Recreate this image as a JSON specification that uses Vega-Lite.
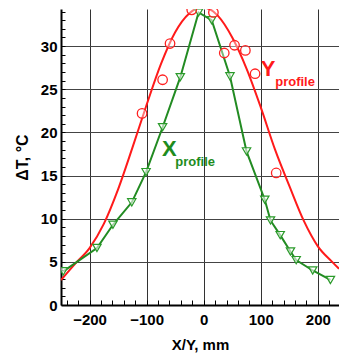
{
  "$schema": "https://vega.github.io/schema/vega-lite/v6.json",
  "autosize": "none",
  "width": 278,
  "height": 296,
  "padding": {"left": 61, "top": 9, "right": 0, "bottom": 49},
  "background": "white",
  "config": {"view": {"stroke": null}, "font": "Liberation Sans"},
  "datasets": {
    "ycurve": [
      {"x": -250, "y": 2.9}, {"x": -225, "y": 4.8}, {"x": -200, "y": 6.6}, {"x": -175, "y": 9.4},
      {"x": -150, "y": 13.4}, {"x": -125, "y": 18.2}, {"x": -100, "y": 23.2}, {"x": -75, "y": 27.9},
      {"x": -50, "y": 31.6}, {"x": -25, "y": 33.8}, {"x": -5, "y": 34.5}, {"x": 10, "y": 34.3},
      {"x": 25, "y": 33.5}, {"x": 50, "y": 31.0}, {"x": 75, "y": 27.4}, {"x": 100, "y": 22.9},
      {"x": 125, "y": 18.0}, {"x": 150, "y": 13.8}, {"x": 175, "y": 9.8}, {"x": 200, "y": 6.8},
      {"x": 225, "y": 5.0}, {"x": 237, "y": 4.2}
    ],
    "ypts": [
      {"x": -108, "y": 22.2}, {"x": -72, "y": 26.1}, {"x": -59, "y": 30.3}, {"x": -21, "y": 34.2},
      {"x": 17, "y": 33.9}, {"x": 36, "y": 29.2}, {"x": 54, "y": 30.1}, {"x": 73, "y": 29.5},
      {"x": 90, "y": 26.8}, {"x": 127, "y": 15.3}
    ],
    "xpts": [
      {"x": -246, "y": 3.9}, {"x": -187, "y": 6.6}, {"x": -159, "y": 9.3}, {"x": -126, "y": 11.9},
      {"x": -101, "y": 15.4}, {"x": -72, "y": 20.6}, {"x": -41, "y": 26.4}, {"x": -9, "y": 33.9},
      {"x": 14, "y": 33.0}, {"x": 46, "y": 26.5}, {"x": 75, "y": 17.8}, {"x": 107, "y": 12.2},
      {"x": 117, "y": 9.8}, {"x": 134, "y": 8.1}, {"x": 152, "y": 6.2}, {"x": 162, "y": 5.2},
      {"x": 191, "y": 4.0}, {"x": 222, "y": 2.9}
    ],
    "labels": [
      {"x": 113, "y": 27.4, "t": "Y", "c": "Yc", "s": "big"},
      {"x": 160, "y": 25.8, "t": "profile", "c": "Yc", "s": "small"},
      {"x": -60, "y": 18.1, "t": "X", "c": "Xc", "s": "big"},
      {"x": -15, "y": 16.6, "t": "profile", "c": "Xc", "s": "small"}
    ]
  },
  "encoding": {
    "x": {
      "field": "x", "type": "quantitative",
      "scale": {"domain": [-250, 237], "nice": false, "zero": false},
      "axis": {
        "title": "X/Y, mm", "titleFont": "Liberation Sans", "titleFontSize": 15, "titleFontWeight": "bold",
        "titleColor": "black", "titlePadding": 10,
        "values": [-240,-220,-200,-180,-160,-140,-120,-100,-80,-60,-40,-20,0,20,40,60,80,100,120,140,160,180,200,220],
        "labelExpr": "datum.value % 100 === 0 ? datum.label : ''",
        "labelFont": "Liberation Sans", "labelFontSize": 15, "labelFontWeight": "bold", "labelColor": "black",
        "labelPadding": 12, "labelFlush": false,
        "tickSize": -5, "tickColor": "black", "tickWidth": 1,
        "domainColor": "black", "domainWidth": 2,
        "grid": true, "gridColor": "#333",
        "gridOpacity": {"condition": {"test": "datum.value % 100 === 0", "value": 1}, "value": 0}
      }
    },
    "y": {
      "field": "y", "type": "quantitative",
      "scale": {"domain": [0, 34.3], "nice": false},
      "axis": {
        "title": "ΔT, °C", "titleFont": "Liberation Sans", "titleFontSize": 16, "titleFontWeight": "bold",
        "titleColor": "black", "titlePadding": 10,
        "values": [0,1,2,3,4,5,6,7,8,9,10,11,12,13,14,15,16,17,18,19,20,21,22,23,24,25,26,27,28,29,30,31,32,33,34],
        "labelExpr": "datum.value % 5 === 0 ? datum.label : ''",
        "labelFont": "Liberation Sans", "labelFontSize": 15, "labelFontWeight": "bold", "labelColor": "black",
        "labelPadding": 8,
        "tickSize": -4, "tickColor": "black", "tickWidth": 1,
        "domainColor": "black", "domainWidth": 2,
        "grid": true, "gridColor": "#444",
        "gridOpacity": {"condition": {"test": "datum.value % 5 === 0 && datum.value > 0", "value": 1}, "value": 0}
      }
    }
  },
  "layer": [
    {
      "data": {"name": "ycurve"},
      "mark": {"type": "line", "color": "#ff1a1a", "strokeWidth": 2, "interpolate": "monotone", "clip": true}
    },
    {
      "data": {"name": "xpts"},
      "mark": {"type": "line", "color": "#228b22", "strokeWidth": 2, "clip": true}
    },
    {
      "data": {"name": "xpts"},
      "mark": {"type": "point", "shape": "triangle-down", "size": 70, "filled": false, "fill": "white", "fillOpacity": 0.6, "stroke": "#2a9a2a", "strokeWidth": 1.2, "opacity": 1, "clip": true}
    },
    {
      "data": {"name": "ypts"},
      "mark": {"type": "point", "shape": "circle", "size": 90, "filled": false, "fill": "white", "fillOpacity": 0.4, "stroke": "#ff2020", "strokeWidth": 1.3, "opacity": 1, "clip": true}
    },
    {
      "data": {"name": "labels"},
      "mark": {"type": "text", "font": "Liberation Sans", "fontWeight": "bold", "align": "center", "baseline": "middle"},
      "encoding": {
        "text": {"field": "t"},
        "color": {"field": "c", "type": "nominal", "scale": {"domain": ["Yc", "Xc"], "range": ["#ff1a1a", "#1e8c1e"]}, "legend": null},
        "size": {"field": "s", "type": "nominal", "scale": {"domain": ["big", "small"], "range": [22, 13]}, "legend": null}
      }
    }
  ]
}
